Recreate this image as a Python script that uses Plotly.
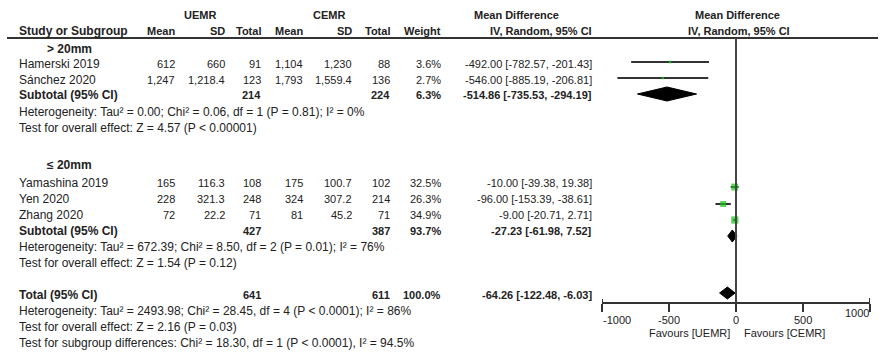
import plotly.graph_objects as go

# ---- study data ----
studies = ["Hamerski 2019", "Sánchez 2020", "Yamashina 2019", "Yen 2020", "Zhang 2020"]
uemr_mean = [612, 1247, 165, 228, 72]
uemr_sd = [660, 1218.4, 116.3, 321.3, 22.2]
uemr_n = [91, 123, 108, 248, 71]
cemr_mean = [1104, 1793, 175, 324, 81]
cemr_sd = [1230, 1559.4, 100.7, 307.2, 45.2]
cemr_n = [88, 136, 102, 214, 71]
weight = [3.6, 2.7, 32.5, 26.3, 34.9]
md = [-492.00, -546.00, -10.00, -96.00, -9.00]
md_lo = [-782.57, -885.19, -39.38, -153.39, -20.71]
md_hi = [-201.43, -206.81, 19.38, -38.61, 2.71]

# ---- subgroup data ----
groups = ["> 20mm", "≤ 20mm"]
sub_uemr_n = [214, 427]
sub_cemr_n = [224, 387]
sub_weight = [6.3, 93.7]
sub_md = [-514.86, -27.23]
sub_lo = [-735.53, -61.98]
sub_hi = [-294.19, 7.52]
sub_het = [
    "Heterogeneity: Tau² = 0.00; Chi² = 0.06, df = 1 (P = 0.81); I² = 0%",
    "Heterogeneity: Tau² = 672.39; Chi² = 8.50, df = 2 (P = 0.01); I² = 76%",
]
sub_z = [
    "Test for overall effect: Z = 4.57 (P < 0.00001)",
    "Test for overall effect: Z = 1.54 (P = 0.12)",
]

# ---- overall ----
total_uemr_n = 641
total_cemr_n = 611
total_weight = 100.0
total_md = -64.26
total_lo = -122.48
total_hi = -6.03
total_notes = [
    "Heterogeneity: Tau² = 2493.98; Chi² = 28.45, df = 4 (P < 0.0001); I² = 86%",
    "Test for overall effect: Z = 2.16 (P = 0.03)",
    "Test for subgroup differences: Chi² = 18.30, df = 1 (P < 0.0001), I² = 94.5%",
]

axis_ticks = [-1000, -500, 0, 500, 1000]
favours = ["Favours [UEMR]", "Favours [CEMR]"]

# ---- layout (pixel rows / columns) ----
W, H = 880, 353
AXIS_Y = 302
study_text_y = [64, 80, 183, 199, 215]
study_mark_y = [62, 78, 187, 204, 220]
group_head_y = [49, 165]
sub_text_y = [95, 231]
sub_mark_y = [94, 236]
het_y = [112, 247]
z_y = [128, 263]
total_text_y = 295
total_mark_y = 293
total_notes_y = [311, 327, 343]
col_right = [176, 226, 262, 304, 353, 391, 442, 593]
NAME_X = 18
GROUP_X = 46

FONT = "Liberation Sans, Arial, sans-serif"
TXT = "#222222"
GREEN = "#14c414"
LABEL_SIZE = 12   # left-hand labels and notes
CELL_SIZE = 11    # table cells, headers and scale


def fmt_num(v):
    return f"{v:,}"


def fmt_ci(m, lo, hi):
    return f"{m:.2f} [{lo:.2f}, {hi:.2f}]"


annotations = []


def add_text(x, y, text, anchor="left", bold=False, xref="x", size=CELL_SIZE):
    annotations.append(dict(
        x=x, y=y, xref=xref, yref="y", text=f"<b>{text}</b>" if bold else text,
        showarrow=False, xanchor=anchor, yanchor="middle",
        font=dict(family=FONT, size=size, color=TXT), borderpad=0,
    ))


# headers
add_text(200, 15, "UEMR", "center", True)
add_text(329, 15, "CEMR", "center", True)
add_text(516, 15, "Mean Difference", "center", True)
add_text(737, 15, "Mean Difference", "center", True)
add_text(NAME_X, 31, "Study or Subgroup", "left", True, size=LABEL_SIZE)
for x, t in zip(col_right, ["Mean", "SD", "Total", "Mean", "SD", "Total", "Weight",
                            "IV, Random, 95% CI"]):
    add_text(x, 31, t, "right", True)
add_text(739, 31, "IV, Random, 95% CI", "center", True)

# study rows
for i, name in enumerate(studies):
    y = study_text_y[i]
    add_text(NAME_X, y, name, size=LABEL_SIZE)
    vals = [fmt_num(uemr_mean[i]), fmt_num(uemr_sd[i]), str(uemr_n[i]),
            fmt_num(cemr_mean[i]), fmt_num(cemr_sd[i]), str(cemr_n[i]),
            f"{weight[i]:.1f}%", fmt_ci(md[i], md_lo[i], md_hi[i])]
    for x, v in zip(col_right, vals):
        add_text(x, y, v, "right")

# subgroup rows
for g in range(len(groups)):
    add_text(GROUP_X, group_head_y[g], groups[g], "left", True, size=LABEL_SIZE)
    y = sub_text_y[g]
    add_text(NAME_X, y, "Subtotal (95% CI)", "left", True, size=LABEL_SIZE)
    add_text(col_right[2], y, str(sub_uemr_n[g]), "right", True)
    add_text(col_right[5], y, str(sub_cemr_n[g]), "right", True)
    add_text(col_right[6], y, f"{sub_weight[g]:.1f}%", "right", True)
    add_text(col_right[7], y, fmt_ci(sub_md[g], sub_lo[g], sub_hi[g]), "right", True)
    add_text(NAME_X, het_y[g], sub_het[g], size=LABEL_SIZE)
    add_text(NAME_X, z_y[g], sub_z[g], size=LABEL_SIZE)

# total rows
add_text(NAME_X, total_text_y, "Total (95% CI)", "left", True, size=LABEL_SIZE)
add_text(col_right[2], total_text_y, str(total_uemr_n), "right", True)
add_text(col_right[5], total_text_y, str(total_cemr_n), "right", True)
add_text(col_right[6], total_text_y, f"{total_weight:.1f}%", "right", True)
add_text(col_right[7], total_text_y, fmt_ci(total_md, total_lo, total_hi), "right", True)
for y, t in zip(total_notes_y, total_notes):
    add_text(NAME_X, y, t, size=LABEL_SIZE)

# axis tick labels and favours captions
for v in axis_ticks:
    if v == axis_ticks[0]:
        add_text(v, 320, str(v), "left", xref="x2")
    elif v == axis_ticks[-1]:
        add_text(v, 313, str(v), "right", xref="x2")
    else:
        add_text(v, 320, str(v), "center", xref="x2")
annotations.append(dict(x=0, y=333, xref="x2", yref="y", text=favours[0], showarrow=False,
                        xanchor="right", yanchor="middle", xshift=-4,
                        font=dict(family=FONT, size=CELL_SIZE, color=TXT)))
annotations.append(dict(x=0, y=333, xref="x2", yref="y", text=favours[1], showarrow=False,
                        xanchor="left", yanchor="middle", xshift=6,
                        font=dict(family=FONT, size=CELL_SIZE, color=TXT)))

fig = go.Figure()

# confidence interval whiskers
ci_x, ci_y = [], []
for i in range(len(studies)):
    ci_x += [md_lo[i], md_hi[i], None]
    ci_y += [study_mark_y[i], study_mark_y[i], None]
fig.add_trace(go.Scatter(x=ci_x, y=ci_y, mode="lines", xaxis="x2", yaxis="y2",
                         line=dict(color="#333333", width=2), hoverinfo="skip",
                         showlegend=False))

# weighted point estimates
fig.add_trace(go.Scatter(x=md, y=study_mark_y, mode="markers", xaxis="x2", yaxis="y2",
                         marker=dict(symbol="square", color=GREEN,
                                     size=[2 + 0.15 * w for w in weight],
                                     line=dict(width=0)),
                         showlegend=False))


# pooled diamonds
def diamond(lo, mid, hi, yc, half):
    return [lo, mid, hi, mid, lo], [yc, yc - half, yc, yc + half, yc]


pooled = [(sub_lo[g], sub_md[g], sub_hi[g], sub_mark_y[g], 7 if g == 0 else 6)
          for g in range(len(groups))]
pooled.append((total_lo, total_md, total_hi, total_mark_y, 6))
for lo, mid, hi, yc, half in pooled:
    dx, dy = diamond(lo, mid, hi, yc, half)
    fig.add_trace(go.Scatter(x=dx, y=dy, mode="lines", fill="toself", fillcolor="black",
                             line=dict(color="black", width=1), xaxis="x2", yaxis="y2",
                             hoverinfo="skip", showlegend=False))

shapes = [
    # header rule
    dict(type="line", xref="x", yref="y", x0=7, x1=878, y0=38, y1=38,
         line=dict(color="#333333", width=2)),
    # line of no effect
    dict(type="line", xref="x2", yref="y", x0=0, x1=0, y0=38, y1=AXIS_Y,
         line=dict(color="#444444", width=2)),
    # end caps of the scale
    dict(type="line", xref="x2", yref="y", x0=axis_ticks[0], x1=axis_ticks[0],
         y0=AXIS_Y - 3, y1=AXIS_Y, line=dict(color="#333333", width=2)),
    dict(type="line", xref="x2", yref="y", x0=axis_ticks[-1], x1=axis_ticks[-1],
         y0=AXIS_Y - 4, y1=AXIS_Y, line=dict(color="#333333", width=2)),
]

fig.update_layout(
    width=W, height=H,
    margin=dict(l=0, r=0, t=0, b=0),
    paper_bgcolor="white", plot_bgcolor="rgba(0,0,0,0)",
    showlegend=False,
    xaxis=dict(range=[0, W], domain=[0, 1], visible=False, anchor="y", fixedrange=True),
    yaxis=dict(range=[H, 0], domain=[0, 1], visible=False, anchor="x", fixedrange=True),
    xaxis2=dict(range=[axis_ticks[0], axis_ticks[-1]], domain=[602 / W, 870 / W],
                anchor="y2", showline=True, linewidth=2, linecolor="#333333",
                ticks="outside", ticklen=8, tickwidth=2, tickcolor="#333333",
                tickvals=axis_ticks, showticklabels=False, showgrid=False,
                zeroline=False, fixedrange=True),
    yaxis2=dict(range=[AXIS_Y, 0], domain=[(H - AXIS_Y) / H, 1], visible=False,
                anchor="x2", fixedrange=True),
    annotations=annotations,
    shapes=shapes,
)

fig.write_html("out.html")
